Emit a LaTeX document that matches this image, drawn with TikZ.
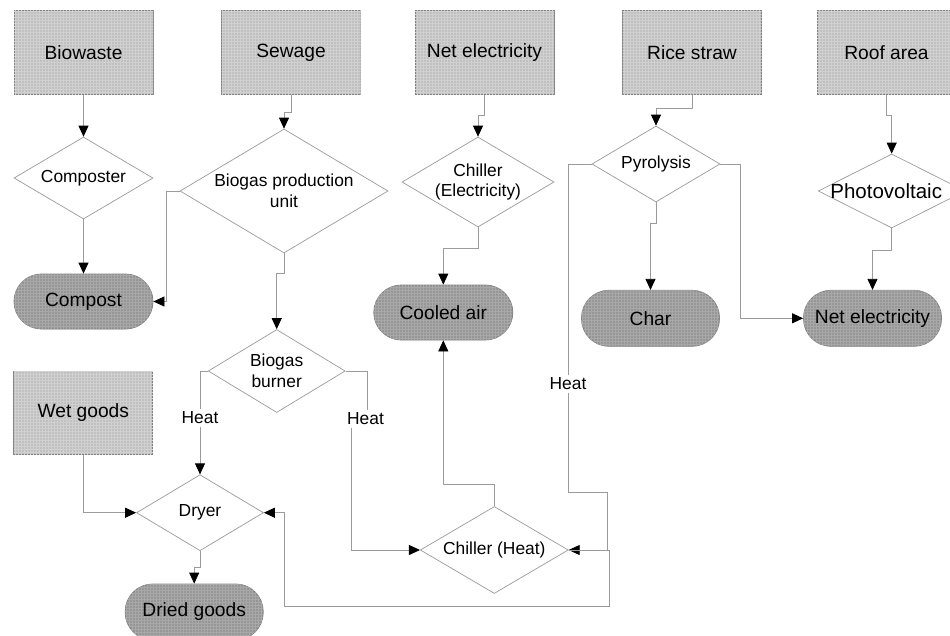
\documentclass[tikz,border=0pt]{standalone}
\usepackage{fontspec}
\setmainfont{Liberation Sans}
\usetikzlibrary{shapes.geometric,arrows.meta,patterns}
\definecolor{recfill}{RGB}{192,192,192}
\definecolor{termfill}{RGB}{150,150,150}
\definecolor{edgegrey}{RGB}{130,130,130}
\definecolor{linegrey}{RGB}{155,155,155}
\definecolor{gridlight}{RGB}{208,208,208}
\definecolor{gridterm}{RGB}{168,168,168}
\tikzset{
  srcbox/.style={rectangle, draw=edgegrey, line width=0.8pt, fill=recfill,
    postaction={pattern=grid, pattern color=gridlight},
    minimum width=139pt, minimum height=84pt, inner sep=0pt,
    font=\fontsize{19.2}{22}\selectfont},
  termbox/.style={rectangle, rounded corners=27.5pt, draw=edgegrey, line width=0.8pt, fill=termfill,
    postaction={pattern=grid, pattern color=gridterm},
    minimum height=55pt, inner sep=0pt, font=\fontsize{19.2}{22}\selectfont},
  procbox/.style={diamond, draw=linegrey, line width=0.7pt, fill=white, inner sep=0pt},
  dtxt/.style={font=\fontsize{17.4}{20.5}\selectfont, align=center, inner sep=0pt},
  heatlbl/.style={font=\fontsize{17.4}{20.5}\selectfont, inner sep=3pt},
  flow/.style={draw=linegrey, line width=0.8pt, -{Triangle[length=11pt,width=10pt,color=black]}},
  plain/.style={draw=linegrey, line width=0.8pt},
}
\begin{document}
\begin{tikzpicture}[x=1pt,y=-1pt]
\clip (0,0) rectangle (950,635);
\fill[white] (0,0) rectangle (950,635);
% sources
\node[srcbox] (bio) at (83.5,52.5) {Biowaste};
\node[srcbox] (sew) at (291,52.5) {Sewage};
\node[srcbox] (net) at (484.5,52.5) {Net electricity};
\node[srcbox] (ric) at (692,52.5) {Rice straw};
\node[srcbox] (roo) at (886.5,52.5) {Roof area};
\node[srcbox, minimum height=83pt] (wet) at (83.3,413) {Wet goods};
% processes
\node[procbox, minimum width=139pt, minimum height=82pt, label={[dtxt]center:Composter}] (com) at (83.5,178) {};
\node[procbox, minimum width=208pt, minimum height=124pt, label={[dtxt]center:Biogas production\\unit}] (bpu) at (284,191) {};
\node[procbox, minimum width=152pt, minimum height=90pt, label={[dtxt]center:Chiller\\(Electricity)}] (che) at (478,182) {};
\node[procbox, minimum width=128pt, minimum height=76pt, label={[dtxt]center:Pyrolysis}] (pyr) at (656,164) {};
\node[procbox, minimum width=147pt, minimum height=74pt, label={[dtxt,font=\fontsize{20.5}{22}\selectfont,xshift=-5.5pt]center:Photovoltaic}] (pv) at (891.7,191) {};
\node[procbox, minimum width=137pt, minimum height=83pt, label={[dtxt]center:Biogas\\burner}] (bur) at (276.7,371) {};
\node[procbox, minimum width=127pt, minimum height=76pt, label={[dtxt]center:Dryer}] (dry) at (200,512.7) {};
\node[procbox, minimum width=148pt, minimum height=87pt, label={[dtxt]center:Chiller (Heat)}] (chh) at (494.3,550) {};
% products
\node[termbox, minimum width=139pt] (cpt) at (83.5,301.5) {Compost};
\node[termbox, minimum width=139pt] (cool) at (443.3,312.5) {Cooled air};
\node[termbox, minimum width=138pt, minimum height=56pt] (char) at (650.5,318.3) {Char};
\node[termbox, minimum width=138pt, minimum height=56pt] (ne) at (872.5,318.3) {Net electricity};
\node[termbox, minimum width=138pt, minimum height=56pt] (dried) at (194.2,612) {Dried goods};
% heat labels
\node[heatlbl] (heatA) at (200,418) {Heat};
\node[heatlbl] (heatB) at (365.5,419) {Heat};
\node[heatlbl] (heatC) at (568,384) {Heat};
\coordinate (c1) at (607.3,492.7);
\coordinate (c2) at (609.3,606);
\coordinate (c3) at (284.3,606);
% connectors
\draw[flow] (bio.south) -- (com.north);
\draw[flow] (sew.south) -- ++(0,17.5) -| (bpu.north);
\draw[flow] (net.south) -- ++(0,20) -| (che.north);
\draw[flow] (ric.south) -- ++(0,13.5) -| (pyr.north);
\draw[flow] (roo.south) -- ++(0,20) -| (pv.north);
\draw[flow] (com.south) -- (cpt.north);
\draw[flow] (bpu.west) -- ++(-13.5,0) |- (cpt.east);
\draw[flow] (bpu.south) -- ++(0,20) -| (bur.north);
\draw[flow] (che.south) -- ++(0,21) -| (cool.north);
\draw[flow] (pyr.south) -- ++(0,21) -| (char.north);
\draw[flow] (pyr.east) -- ++(20,0) |- (ne.west);
\draw[flow] (pv.south) -- ++(0,22) -| (ne.north);
\draw[plain] (bur.west) -| (heatA.north);
\draw[flow] (heatA.south) -- (dry.north);
\draw[plain] (bur.east) -| ([xshift=2pt]heatB.north);
\draw[flow] ([xshift=-14pt]heatB.south) |- (chh.west);
\draw[plain] (pyr.west) -| (heatC.north);
\draw[flow] (heatC.south) |- (c1) |- (chh.east);
\draw[flow] (chh.north) -- ++(0,-21.7) -| (cool.south);
\draw[flow] (chh.east) -| (c2) -| (c3) |- (dry.east);
\draw[flow] (wet.south) |- (dry.west);
\draw[flow] (dry.south) -- ++(0,16.6) -| (dried.north);
\end{tikzpicture}
\end{document}
